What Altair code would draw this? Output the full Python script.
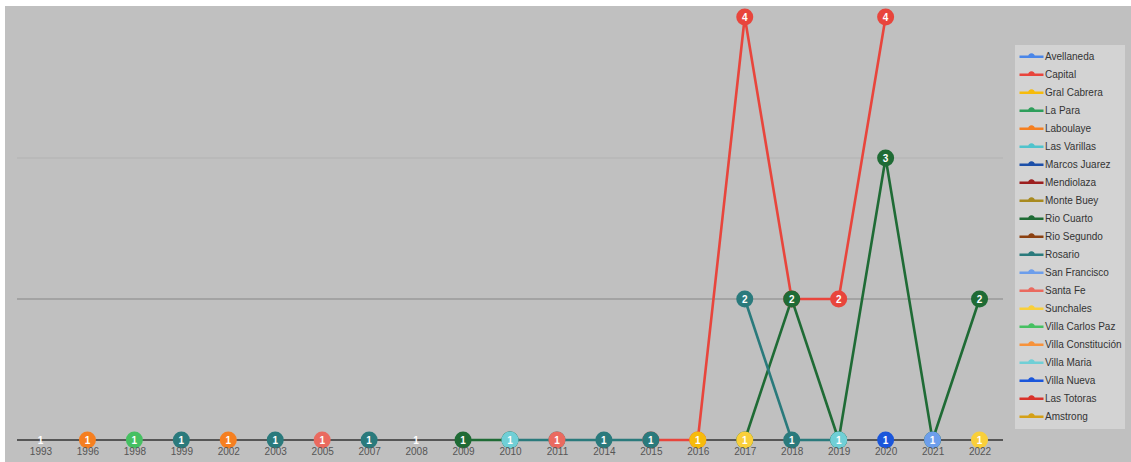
import altair as alt
import pandas as pd

# Years shown on the x axis (ordinal categories)
years = ["1993", "1996", "1998", "1999", "2002", "2003", "2005", "2007", "2008",
         "2009", "2010", "2011", "2014", "2015", "2016", "2017", "2018", "2019",
         "2020", "2021", "2022"]

# Cities in legend order, with their colours
cities = ["Avellaneda", "Capital", "Gral Cabrera", "La Para", "Laboulaye",
          "Las Varillas", "Marcos Juarez", "Mendiolaza", "Monte Buey",
          "Rio Cuarto", "Rio Segundo", "Rosario", "San Francisco", "Santa Fe",
          "Sunchales", "Villa Carlos Paz", "Villa Constitución", "Villa Maria",
          "Villa Nueva", "Las Totoras", "Amstrong"]
city_colors = ["#4a86e8", "#e8453c", "#f6bb0c", "#2e9e5b", "#f57f20",
               "#4fc3cc", "#1c4fa8", "#9c1f1f", "#a88a1f",
               "#1f6b35", "#8b4010", "#2a7a7c", "#6d9eeb", "#ea6a5f",
               "#f9cf3a", "#46c062", "#f7923a", "#70cfd6",
               "#1a56db", "#d9322a", "#d4a017"]

# Counts per year for each city (years not listed have no entry)
capital = {"2015": 1, "2016": 1, "2017": 4, "2018": 2, "2019": 2, "2020": 4}
gral_cabrera = {"2016": 1}
laboulaye = {"1996": 1, "2002": 1}
rio_cuarto = {"2009": 1, "2010": 1, "2017": 1, "2018": 2, "2019": 1,
              "2020": 3, "2021": 1, "2022": 2}
rosario = {"1999": 1, "2003": 1, "2007": 1, "2010": 1, "2011": 1, "2014": 1,
           "2015": 1, "2017": 2, "2018": 1, "2019": 1}
san_francisco = {"2021": 1}
santa_fe = {"2005": 1, "2011": 1}
sunchales = {"2017": 1, "2022": 1}
villa_carlos_paz = {"1998": 1}
villa_maria = {"2010": 1, "2019": 1}
villa_nueva = {"2020": 1}
las_totoras = {"2008": 1}
amstrong = {"1993": 1}

city_values = {
    "Capital": capital, "Gral Cabrera": gral_cabrera, "Laboulaye": laboulaye,
    "Rio Cuarto": rio_cuarto, "Rosario": rosario,
    "San Francisco": san_francisco, "Santa Fe": santa_fe,
    "Sunchales": sunchales, "Villa Carlos Paz": villa_carlos_paz,
    "Villa Maria": villa_maria, "Villa Nueva": villa_nueva,
    "Las Totoras": las_totoras, "Amstrong": amstrong,
}
# Series drawn as plain lines, without point markers
no_markers = ["Las Totoras", "Amstrong"]

# Horizontal reference lines: value, colour, width
ref_levels = [1, 2, 3]
ref_colors = ["#333333", "#9a9a9a", "#b2b2b2"]
ref_widths = [1.5, 1.3, 1.0]

# Full city x year grid; missing years stay null so lines break there
rows = []
for city in cities:
    vals = city_values.get(city, {})
    for y in years:
        rows.append({"city": city, "year": y, "value": vals.get(y)})
grid = pd.DataFrame(rows)
points = grid[grid["value"].notna()]
markers = points[~points["city"].isin(no_markers)]
labels = points.drop_duplicates(["year", "value"], keep="last")
refs = pd.DataFrame({"level": ref_levels, "shade": ref_colors, "w": ref_widths})

W, H = 986, 423
PAD = {"left": 17, "top": 17, "right": 1131 - 17 - W, "bottom": 462 - 17 - H}
FONT = "Liberation Sans"

x_enc = alt.X("year:O",
              scale=alt.Scale(type="point", domain=years, padding=0.5),
              axis=alt.Axis(title=None, labelAngle=0, ticks=False, domain=False,
                            grid=False, labelPadding=6, labelFontSize=10,
                            labelFont=FONT, labelColor="#555555", zindex=1))
y_scale = alt.Scale(domain=[1, 4], nice=False, zero=False)
y_enc = alt.Y("value:Q", scale=y_scale, axis=None)

# Legend swatch: a short line with a small marker bump in the middle
legend_symbol = "M-1,0L1,0M-0.18,0A0.18,0.18,0,0,1,0.18,0"
color_scale = alt.Scale(domain=cities, range=city_colors)
color_enc = alt.Color(
    "city:N",
    scale=color_scale,
    legend=alt.Legend(title=None, orient="none", legendX=998, legendY=28,
                      fillColor="#d3d3d3", padding=3, symbolType=legend_symbol,
                      symbolSize=576, symbolStrokeWidth=2.5, labelFontSize=10,
                      labelFont=FONT, labelColor="#333333", labelOffset=0,
                      clipHeight=17.5, rowPadding=0, symbolLimit=0,
                      labelLimit=300),
)

one = pd.DataFrame({"k": [0]})
backdrop = alt.Chart(one).mark_rect(color="#c0c0c0").encode(
    x=alt.value(-12), x2=alt.value(1131 - 17), y=alt.value(-11), y2=alt.value(462 - 17)
)

rules = alt.Chart(refs).mark_rule().encode(
    y=alt.Y("level:Q", scale=y_scale, axis=None),
    color=alt.Color("shade:N", scale=None, legend=None),
    strokeWidth=alt.StrokeWidth("w:Q", scale=None, legend=None),
)

lines = alt.Chart(grid).mark_line(strokeWidth=2.6).encode(
    x=x_enc, y=y_enc, color=color_enc
)

dots = alt.Chart(markers).mark_circle(size=290, opacity=1).encode(
    x=x_enc, y=y_enc, color=alt.Color("city:N", scale=color_scale, legend=None)
)

texts = alt.Chart(labels).mark_text(
    color="white", fontWeight="bold", fontSize=10, font=FONT,
    baseline="middle", align="center", dy=0.5
).encode(x=x_enc, y=y_enc, text=alt.Text("value:Q", format="d"))

chart = alt.layer(backdrop, rules, lines, dots, texts).resolve_scale(
    color="independent"
).properties(
    width=W, height=H,
    autosize=alt.AutoSizeParams(type="none"),
    padding=PAD,
    background="white",
).configure_view(stroke=None)

chart.save("out.html", embed_options={"renderer": "svg", "actions": False})
